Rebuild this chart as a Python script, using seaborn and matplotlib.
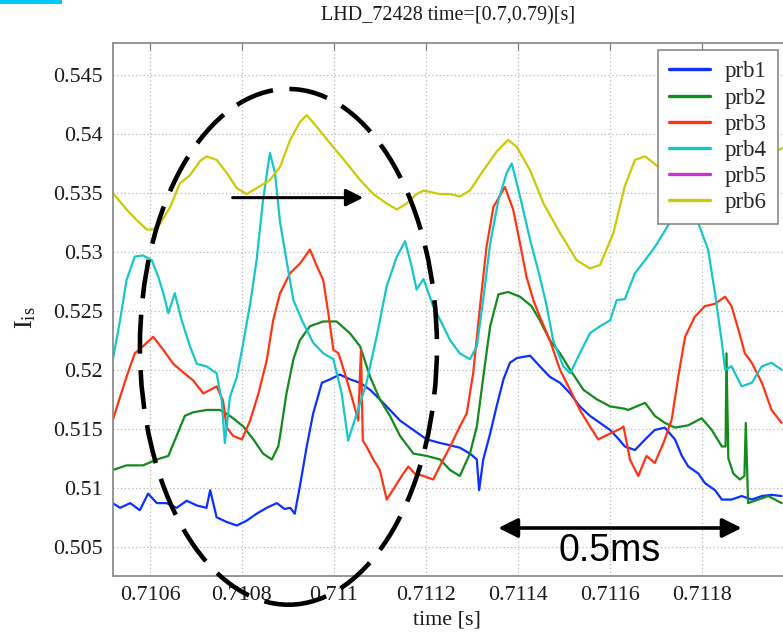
import numpy as np
import pandas as pd
import seaborn as sns
import matplotlib
matplotlib.use("Agg")
import matplotlib.pyplot as plt
from matplotlib.patches import Ellipse, Rectangle
from matplotlib.lines import Line2D
from matplotlib.ticker import FixedLocator, FixedFormatter

# ---- probe signals: time offset from 0.71 s in microseconds, and I_is ----
prb1_t = [519, 535, 557, 578, 596, 615, 636, 658, 680, 702, 723, 731, 745, 767, 789, 810, 832,
          854, 876, 893, 905, 915, 926, 941, 955, 974, 992, 1013, 1035, 1057, 1079, 1100, 1122,
          1144, 1173, 1202, 1231, 1253, 1274, 1296, 1311, 1316, 1325, 1340, 1354, 1369, 1383,
          1398, 1427, 1448, 1470, 1492, 1514, 1535, 1557, 1579, 1601, 1620, 1633, 1655, 1677,
          1698, 1720, 1742, 1757, 1771, 1793, 1807, 1829, 1844, 1865, 1887, 1909, 1931, 1952, 1974]
prb1_v = [.5087, .5083, .5087, .5081, .5095, .5087, .5087, .5083, .5089, .5085, .5083, .5098,
          .5075, .5071, .5068, .5072, .5078, .5083, .5087, .5082, .5083, .5078, .5101, .5135,
          .5163, .5189, .5192, .5196, .5192, .5189, .5183, .5175, .5166, .5157, .5149, .5141,
          .5138, .5136, .5134, .5129, .5124, .5098, .5124, .5146, .5169, .5192, .5206, .5210,
          .5212, .5203, .5194, .5189, .5180, .5169, .5161, .5155, .5149, .5141, .5135, .5132,
          .5141, .5149, .5151, .5141, .5127, .5118, .5112, .5104, .5098, .5090, .5090, .5093,
          .5090, .5093, .5094, .5093]

prb2_t = [519, 549, 585, 615, 640, 658, 676, 694, 723, 752, 774, 803, 825, 846, 865, 879, 883,
          897, 912, 926, 948, 977, 1006, 1035, 1057, 1079, 1100, 1122, 1144, 1173, 1202, 1231,
          1253, 1274, 1296, 1311, 1325, 1340, 1358, 1379, 1405, 1430, 1448, 1470, 1492, 1514,
          1543, 1572, 1601, 1633, 1640, 1677, 1698, 1720, 1742, 1771, 1800, 1822, 1844, 1852,
          1854, 1858, 1869, 1883, 1893, 1896, 1901, 1923, 1945, 1974]
prb2_v = [.5115, .5119, .5119, .5124, .5127, .5144, .5161, .5164, .5166, .5166, .5161, .5152,
          .5141, .5129, .5124, .5135, .5144, .5180, .5209, .5225, .5237, .5241, .5241, .5231,
          .5220, .5194, .5175, .5161, .5144, .5129, .5127, .5124, .5115, .5110, .5129, .5152,
          .5194, .5237, .5264, .5266, .5262, .5254, .5242, .5225, .5214, .5200, .5183, .5175,
          .5169, .5167, .5166, .5172, .5161, .5155, .5151, .5153, .5159, .5149, .5135, .5135,
          .5214, .5125, .5112, .5107, .5110, .5155, .5087, .5090, .5093, .5087]

prb3_t = [519, 535, 549, 567, 585, 607, 629, 651, 672, 694, 716, 731, 745, 759, 767, 781, 800,
          818, 836, 854, 868, 883, 905, 926, 948, 963, 977, 988, 999, 1010, 1024, 1039, 1053,
          1059, 1063, 1071, 1086, 1100, 1115, 1133, 1151, 1162, 1176, 1195, 1216, 1238, 1253,
          1274, 1289, 1303, 1318, 1332, 1347, 1372, 1390, 1405, 1419, 1434, 1448, 1470, 1492,
          1514, 1535, 1557, 1575, 1601, 1623, 1630, 1644, 1662, 1680, 1698, 1717, 1735, 1749,
          1764, 1785, 1807, 1829, 1851, 1865, 1880, 1894, 1909, 1931, 1952, 1974]
prb3_v = [.5157, .5177, .5194, .5214, .5220, .5228, .5217, .5205, .5198, .5191, .5180, .5183,
          .5186, .5174, .5151, .5144, .5141, .5157, .5180, .5208, .5242, .5265, .5282, .5290,
          .5302, .5288, .5276, .5248, .5217, .5214, .5197, .5177, .5157, .5217, .5140, .5135,
          .5124, .5115, .5090, .5101, .5112, .5118, .5112, .5110, .5107, .5124, .5135, .5152,
          .5163, .5197, .5254, .5304, .5338, .5355, .5336, .5307, .5279, .5259, .5245, .5225,
          .5200, .5183, .5166, .5152, .5141, .5146, .5150, .5152, .5124, .5110, .5127, .5121,
          .5138, .5158, .5194, .5228, .5245, .5254, .5256, .5262, .5254, .5234, .5214, .5206,
          .5189, .5166, .5155]

prb4_t = [519, 535, 549, 567, 585, 604, 618, 629, 640, 654, 669, 687, 702, 723, 745, 756, 763,
          774, 789, 803, 818, 832, 846, 861, 872, 883, 897, 912, 933, 955, 977, 999, 1017, 1031,
          1050, 1071, 1093, 1115, 1137, 1155, 1169, 1180, 1195, 1216, 1238, 1253, 1274, 1296,
          1311, 1325, 1340, 1358, 1376, 1387, 1405, 1427, 1448, 1463, 1477, 1499, 1514, 1535,
          1557, 1579, 1601, 1615, 1633, 1655, 1677, 1698, 1720, 1757, 1793, 1814, 1829, 1844,
          1851, 1865, 1887, 1909, 1931, 1952, 1974]
prb4_v = [.5208, .5242, .5276, .5296, .5297, .5293, .5279, .5265, .5248, .5265, .5242, .5220,
          .5205, .5203, .5197, .5174, .5138, .5177, .5194, .5223, .5256, .5293, .5344, .5384,
          .5367, .5325, .5293, .5259, .5240, .5223, .5214, .5209, .5180, .5140, .5163, .5189,
          .5228, .5271, .5296, .5309, .5288, .5268, .5277, .5254, .5237, .5225, .5214, .5209,
          .5220, .5260, .5307, .5344, .5367, .5375, .5347, .5310, .5279, .5254, .5225, .5203,
          .5197, .5214, .5231, .5237, .5242, .5259, .5260, .5282, .5293, .5304, .5318, .5342,
          .5324, .5302, .5265, .5223, .5200, .5203, .5186, .5189, .5203, .5206, .5200]

prb5_t = []
prb5_v = []

prb6_t = [519, 549, 571, 593, 607, 622, 644, 665, 687, 709, 723, 745, 767, 789, 810, 832, 861,
          883, 905, 926, 941, 963, 992, 1020, 1057, 1086, 1115, 1137, 1158, 1180, 1195, 1231,
          1253, 1274, 1296, 1325, 1354, 1379, 1398, 1427, 1456, 1492, 1528, 1557, 1579, 1608,
          1633, 1655, 1677, 1706, 1760, 1860, 1977]
prb6_v = [.5350, .5336, .5327, .5319, .5319, .5324, .5338, .5358, .5365, .5377, .5381, .5378,
          .5367, .5354, .5349, .5354, .5361, .5372, .5395, .5410, .5416, .5406, .5392, .5379,
          .5361, .5349, .5341, .5336, .5341, .5349, .5352, .5349, .5349, .5347, .5352, .5369,
          .5385, .5395, .5389, .5369, .5341, .5316, .5293, .5286, .5289, .5316, .5356, .5378,
          .5381, .5372, .5366, .5372, .5388]

probes = ["prb1", "prb2", "prb3", "prb4", "prb5", "prb6"]
colors = ["#0b30ff", "#138a1c", "#ff3414", "#17c6c8", "#c935c9", "#caca05"]

x_ticks = [0.7106, 0.7108, 0.7110, 0.7112, 0.7114, 0.7116, 0.7118]
x_tick_labels = ["0.7106", "0.7108", "0.711", "0.7112", "0.7114", "0.7116", "0.7118"]
y_ticks = [0.505, 0.510, 0.515, 0.520, 0.525, 0.530, 0.535, 0.540, 0.545]
y_tick_labels = ["0.505", "0.51", "0.515", "0.52", "0.525", "0.53", "0.535", "0.54", "0.545"]

# ---- long-form table ----
series = {"prb1": (prb1_t, prb1_v), "prb2": (prb2_t, prb2_v), "prb3": (prb3_t, prb3_v),
          "prb4": (prb4_t, prb4_v), "prb5": (prb5_t, prb5_v), "prb6": (prb6_t, prb6_v)}
frames = []
for name, (tt, vv) in series.items():
    if len(tt):
        frames.append(pd.DataFrame({"time": 0.71 + np.asarray(tt) * 1e-6,
                                    "Iis": vv, "probe": name}))
df = pd.concat(frames, ignore_index=True)

sns.set_theme(style="white")
plt.rcParams["font.family"] = ["Liberation Serif", "DejaVu Serif"]
plt.rcParams["mathtext.fontset"] = "custom"
plt.rcParams["mathtext.rm"] = "Liberation Serif"
plt.rcParams["mathtext.it"] = "Liberation Serif:italic"

W, H = 783, 635
fig = plt.figure(figsize=(W / 100, H / 100), dpi=100)
ax = fig.add_axes([112.7 / W, 59 / H, (793.6 - 112.7) / W, (576 - 43.3) / H])

palette = dict(zip(probes, colors))
sns.lineplot(data=df, x="time", y="Iis", hue="probe", hue_order=probes, palette=palette,
             estimator=None, sort=False, lw=1.6, legend=False, ax=ax)

ax.set_xlim(0.710519, 0.712000)
ax.set_ylim(0.50252, 0.547686)
ax.xaxis.set_major_locator(FixedLocator(x_ticks))
ax.xaxis.set_major_formatter(FixedFormatter(x_tick_labels))
ax.yaxis.set_major_locator(FixedLocator(y_ticks))
ax.yaxis.set_major_formatter(FixedFormatter(y_tick_labels))
ax.set_xlabel("")
ax.set_ylabel("")
ax.grid(True, linestyle=(0, (1, 2)), color="#b8b8b8", lw=0.9)
ax.tick_params(direction="in", length=5, width=0.9, color="#808080",
               labelsize=15.8, labelcolor="#1a1a1a", top=True, right=True, pad=7)
for sp in ax.spines.values():
    sp.set_color("#8c8c8c")
    sp.set_linewidth(1.3)
    sp.set_visible(True)

# legend
handles = [Line2D([], [], color=c, lw=2.4) for c in colors]
leg = ax.legend(handles, probes, loc="upper left", bbox_to_anchor=(658 / W, 1 - 50 / H),
                bbox_transform=fig.transFigure, borderaxespad=0, fontsize=16.5,
                frameon=True, fancybox=False, framealpha=1, edgecolor="#808080",
                handlelength=1.75, handletextpad=0.65, labelspacing=0.22, borderpad=0.5)
leg.get_frame().set_linewidth(1.1)
leg.get_frame().set_facecolor("white")

# titles and labels
fig.text(448 / W, 1 - 16 / H, "LHD_72428 time=[0.7,0.79)[s]", ha="center", va="center",
         fontsize=14.5, color="#1a1a1a")
fig.text(447 / W, 1 - 620 / H, "time [s]", ha="center", va="center", fontsize=15.8,
         color="#1a1a1a")
fig.text(26 / W, 1 - 318 / H, r"$\mathrm{I}_{\mathrm{is}}$", ha="center", va="center",
         rotation=90, fontsize=19, color="#1a1a1a")

# dashed ellipse around the first event
ell = Ellipse((0.7109012, 0.52195), width=0.000646, height=0.04373, fill=False,
              edgecolor="black", lw=3.3, linestyle=(0, (8.5, 3.6)), clip_on=False, zorder=5)
ax.add_patch(ell)

# propagation arrow
ax.annotate("", xy=(0.7110640, 0.5346), xytext=(0.7107799, 0.5346),
            arrowprops=dict(arrowstyle="-|>", lw=2.2, color="black", mutation_scale=26,
                            shrinkA=0, shrinkB=0), zorder=6)
# 0.5 ms scale bar
ax.annotate("", xy=(0.7118870, 0.50659), xytext=(0.7113576, 0.50659),
            arrowprops=dict(arrowstyle="<|-|>", lw=2.6, color="black", mutation_scale=29,
                            shrinkA=0, shrinkB=0), zorder=6)
ax.text(0.7116005, 0.50460, "0.5ms", ha="center", va="center", fontsize=27,
        family=["Liberation Sans", "DejaVu Sans"], color="black", zorder=6)

# small cyan marker block in the corner
fig.patches.append(Rectangle((0, 1 - 3.7 / H), 62 / W, 3.7 / H, transform=fig.transFigure,
                             facecolor="#00c8ff", edgecolor="none", figure=fig))

fig.savefig("out.png", dpi=100, facecolor="white")
